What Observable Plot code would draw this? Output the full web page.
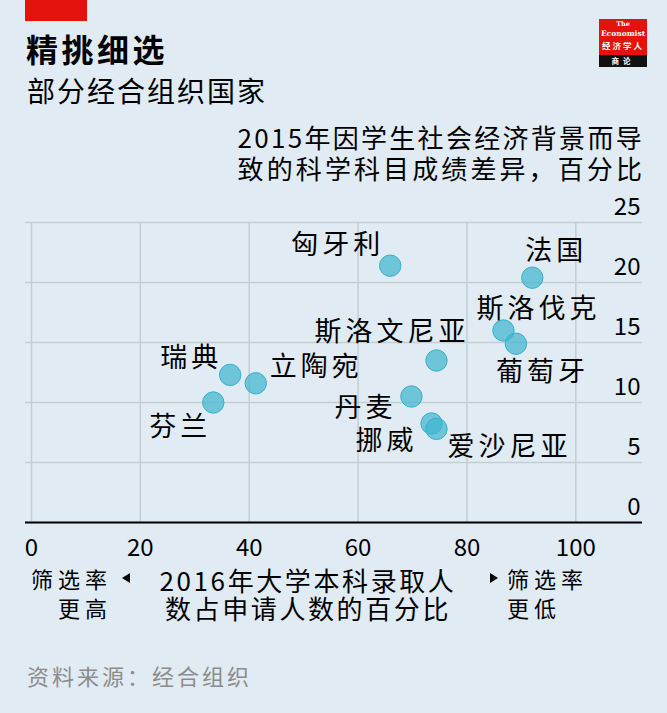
<!DOCTYPE html>
<html><head><meta charset="utf-8">
<script src="https://cdn.jsdelivr.net/npm/d3@7"></script>
<script src="https://cdn.jsdelivr.net/npm/@observablehq/plot@0.6"></script>
<style>
html,body{margin:0;padding:0;background:#e1ebf3;}
#wrap{position:relative;width:667px;height:713px;overflow:hidden;font-family:"Noto Sans CJK SC",sans-serif;color:#000;background:#e1ebf3;}
.abs{position:absolute;white-space:nowrap;line-height:1;}
#chart{position:absolute;left:0;top:190px;}
.tri-l{position:absolute;width:0;height:0;border-top:5px solid transparent;border-bottom:5px solid transparent;border-right:8px solid #000;}
.tri-r{position:absolute;width:0;height:0;border-top:5px solid transparent;border-bottom:5px solid transparent;border-left:8px solid #000;}
.logo-t{position:absolute;left:599px;width:48px;text-align:center;color:#fff;line-height:1;white-space:nowrap;}
</style></head><body><div id="wrap">
<div class="abs" style="left:25px;top:0;width:62px;height:21px;background:#e3120b;"></div>
<div class="abs" style="left:26px;top:32px;font-size:32px;font-weight:bold;letter-spacing:3.5px;">精挑细选</div>
<div class="abs" style="left:27px;top:76px;font-size:28px;letter-spacing:2px;">部分经合组织国家</div>

<div class="abs" style="left:599px;top:19px;width:48px;height:36px;background:#e3120b;"></div>
<div class="abs" style="left:599px;top:55px;width:48px;height:12px;background:#111;"></div>
<div class="logo-t" style="top:21px;font-family:'DejaVu Serif',serif;font-weight:bold;font-size:6.5px;">The</div>
<div class="logo-t" style="top:30px;font-family:'DejaVu Serif',serif;font-weight:bold;font-size:7.5px;">Economist</div>
<div class="logo-t" style="top:41px;font-weight:bold;font-size:8.5px;letter-spacing:2px;">经济学人</div>
<div class="logo-t" style="top:57px;font-weight:bold;font-size:7.5px;letter-spacing:4px;">商论</div>

<div class="abs" style="right:23px;top:124px;font-size:26px;letter-spacing:2.3px;text-align:right;">2015年因学生社会经济背景而导</div>
<div class="abs" style="right:22px;top:155px;font-size:26px;letter-spacing:3.1px;text-align:right;">致的科学科目成绩差异，百分比</div>

<div id="chart"></div>

<div class="abs" style="left:0;width:112px;top:567px;font-size:22px;letter-spacing:5px;text-align:right;">筛选率</div>
<div class="abs" style="left:0;width:112px;top:596px;font-size:22px;letter-spacing:5px;text-align:right;">更高</div>
<div class="tri-l" style="left:122px;top:573px;"></div>
<div class="abs" style="left:158px;width:300px;top:567px;font-size:26px;letter-spacing:2.6px;text-align:center;">2016年大学本科录取人</div>
<div class="abs" style="left:158px;width:300px;top:595px;font-size:26px;letter-spacing:2.6px;text-align:center;">数占申请人数的百分比</div>
<div class="tri-r" style="left:490px;top:573px;"></div>
<div class="abs" style="left:507px;top:567px;font-size:22px;letter-spacing:5px;">筛选率</div>
<div class="abs" style="left:507px;top:596px;font-size:22px;letter-spacing:5px;">更低</div>

<div class="abs" style="left:27px;top:664px;font-size:22px;letter-spacing:3px;color:#8c8c8c;">资料来源：经合组织</div>
</div>
<script>
// Data
const countries = ["匈牙利","法国","斯洛伐克","斯洛文尼亚","葡萄牙","瑞典","立陶宛","芬兰","丹麦","挪威","爱沙尼亚"];
const admissionRate = [65.9, 92.0, 86.7, 74.4, 89.0, 36.5, 41.2, 33.4, 69.8, 73.5, 74.4];
const scienceGap = [21.4, 20.4, 16.0, 13.5, 14.9, 12.3, 11.6, 10.0, 10.5, 8.25, 7.8];
const xTicks = [0, 20, 40, 60, 80, 100];
const yTicks = [0, 5, 10, 15, 20, 25];

// Label placement (style only), same order as countries
const labelPlacement = [
  {anchor:"end",   dx:-6,  dy:-20},
  {anchor:"start", dx:-7,  dy:-26},
  {anchor:"start", dx:-27, dy:-21},
  {anchor:"end",   dx:33,  dy:-28},
  {anchor:"start", dx:-20, dy:29},
  {anchor:"end",   dx:-8,  dy:-17},
  {anchor:"start", dx:14,  dy:-16},
  {anchor:"end",   dx:-2,  dy:25},
  {anchor:"end",   dx:-15, dy:12},
  {anchor:"end",   dx:-14, dy:18},
  {anchor:"start", dx:11,  dy:18}
];

const data = countries.map((c, i) => ({country: c, rate: admissionRate[i], gap: scienceGap[i]}));
const grid = {stroke: "#c5cdd4", strokeOpacity: 1, strokeWidth: 1.5};

const labelMarks = data.map((d, i) => Plot.text([d], {
  x: "rate", y: "gap", text: "country",
  textAnchor: labelPlacement[i].anchor,
  dx: labelPlacement[i].dx, dy: labelPlacement[i].dy,
  lineAnchor: "middle", fontSize: 27, fill: "#000"
}));

const chart = Plot.plot({
  width: 667, height: 370,
  marginTop: 32, marginBottom: 38, marginLeft: 25, marginRight: 25,
  style: {background: "transparent", fontFamily: "'Noto Sans CJK SC', sans-serif", overflow: "visible", color: "#000"},
  x: {domain: [-1.1, 112.25]},
  y: {domain: [0, 25]},
  marks: [
    Plot.gridX({ticks: xTicks, ...grid}),
    Plot.gridY({ticks: yTicks, ...grid}),
    Plot.ruleY([0], {stroke: "#000", strokeWidth: 2}),
    Plot.axisY({ticks: yTicks, anchor: "right", tickSize: 0, tickPadding: 0, textAnchor: "end", dx: -2, dy: -15.5, fontSize: 24, label: null}),
    Plot.axisX({ticks: xTicks, anchor: "bottom", tickSize: 0, tickPadding: 16, fontSize: 24, label: null}),
    Plot.dot(data, {x: "rate", y: "gap", r: 10.7, fill: "#3db5cf", fillOpacity: 0.7, stroke: "#36b0cc", strokeWidth: 1}),
    ...labelMarks
  ]
});
chart.querySelectorAll('g[aria-label="text"]').forEach(g => g.style.letterSpacing = "4px");
document.getElementById("chart").appendChild(chart);
</script>
</body></html>
